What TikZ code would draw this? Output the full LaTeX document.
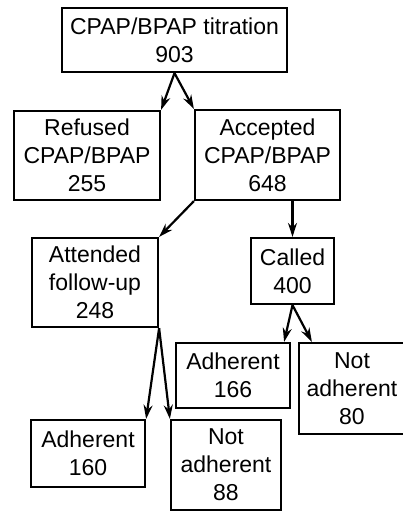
\documentclass[tikz,border=0pt]{standalone}
\usepackage{fontspec}
\setmainfont{Liberation Sans}
\usetikzlibrary{arrows.meta}

\begin{document}
\begin{tikzpicture}[x=1pt,y=-1pt,
	box/.style={draw,line width=2.2pt,inner sep=0pt,align=center,
		font=\fontsize{23}{28}\selectfont},
	flow/.style={line width=2.2pt,-{Stealth[length=14pt,width=9pt]}}]
	\useasboundingbox (0,0) rectangle (403,512);
	% boxes
	\node[box,minimum width=225pt,minimum height=64pt] (titr) at (174.5,40) {CPAP/BPAP titration\\903};
	\node[box,minimum width=146pt,minimum height=89pt] (refus) at (87,155.5) {Refused\\CPAP/BPAP\\255};
	\node[box,minimum width=145pt,minimum height=90pt] (accep) at (267.5,155) {Accepted\\CPAP/BPAP\\648};
	\node[box,minimum width=126pt,minimum height=89pt] (atten) at (95,282.5) {Attended\\follow-up\\248};
	\node[box,minimum width=83pt,minimum height=66pt] (call) at (292.5,271) {Called\\400};
	\node[box,minimum width=114pt,minimum height=65pt] (adhc) at (233,375.5) {Adherent\\166};
	\node[box,minimum width=106pt,minimum height=91pt] (nadhc) at (352,388.5) {Not\\adherent\\80};
	\node[box,minimum width=114pt,minimum height=67pt] (adhf) at (88,453.5) {Adherent\\160};
	\node[box,minimum width=110pt,minimum height=90pt] (nadhf) at (226,465) {Not\\adherent\\88};
	% arrows
	\draw[flow] (titr.south) -- (refus.north east);
	\draw[flow] (titr.south) -- (accep.north west);
	\draw[flow] (accep.south west) -- (atten.north east);
	\draw[flow] (call.north |- accep.south) -- (call.north);
	\draw[flow] (atten.south east) -- (adhf.north east);
	\draw[flow] (atten.south east) -- (nadhf.north west);
	\draw[flow] (call.south) -- ([xshift=-7pt]adhc.north east);
	\draw[flow] (call.south) -- ([xshift=14pt]nadhc.north west);
\end{tikzpicture}
\end{document}
